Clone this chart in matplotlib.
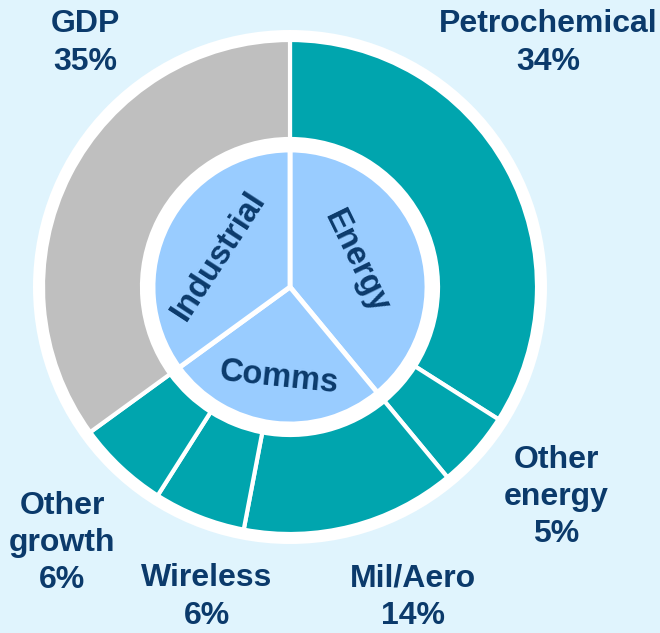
import matplotlib.pyplot as plt
from matplotlib.patches import Circle

# outer ring: segments, clockwise from 12 o'clock
outer_names = ["Petrochemical", "Other\nenergy", "Mil/Aero", "Wireless", "Other\ngrowth", "GDP"]
outer_pct = [34, 5, 14, 6, 6, 35]
outer_colors = ["#00A5AE", "#00A5AE", "#00A5AE", "#00A5AE", "#00A5AE", "#BFBFBF"]

# inner pie: groups
inner_names = ["Energy", "Comms", "Industrial"]
inner_pct = [39, 26, 35]

# label placement (pixel space, y up)
outer_label_xy = [(548, 590), (556, 136), (413, 36), (207, 36), (62, 90), (85, 590)]
inner_label_xy = [(356, 371), (279, 255), (219, 377)]
inner_label_rot = [-64, -6, 57]

navy = "#0B3A6B"
bg = "#E0F4FD"

plt.rcParams["font.family"] = ["Liberation Sans", "DejaVu Sans"]

fig = plt.figure(figsize=(6.6, 6.33), dpi=100, facecolor=bg)
ax = fig.add_axes([0, 0, 1, 1])
ax.set_facecolor(bg)

cx, cy = 290, 346
ax.add_patch(Circle((cx, cy), 257, facecolor="white", edgecolor="none", zorder=0))

ax.pie(outer_pct, radius=247, center=(cx, cy), startangle=90, counterclock=False,
       colors=outer_colors,
       wedgeprops=dict(width=99, edgecolor="white", linewidth=3))
ax.pie(inner_pct, radius=137, center=(cx, cy), startangle=90, counterclock=False,
       colors=["#99CCFF"] * 3,
       wedgeprops=dict(edgecolor="white", linewidth=3.5))

for name, pct, (x, y) in zip(outer_names, outer_pct, outer_label_xy):
    ax.text(x, y, f"{name}\n{pct}%", ha="center", va="center", fontsize=23,
            fontweight="bold", color=navy, linespacing=1.32)

for name, (x, y), rot in zip(inner_names, inner_label_xy, inner_label_rot):
    ax.text(x, y, name, ha="center", va="center", rotation=rot, rotation_mode="anchor",
            fontsize=23.5, fontweight="bold", color=navy)

ax.set_xlim(0, 660)
ax.set_ylim(0, 633)
ax.set_aspect("equal")
ax.axis("off")

fig.savefig("out.png", dpi=100, facecolor=bg)
